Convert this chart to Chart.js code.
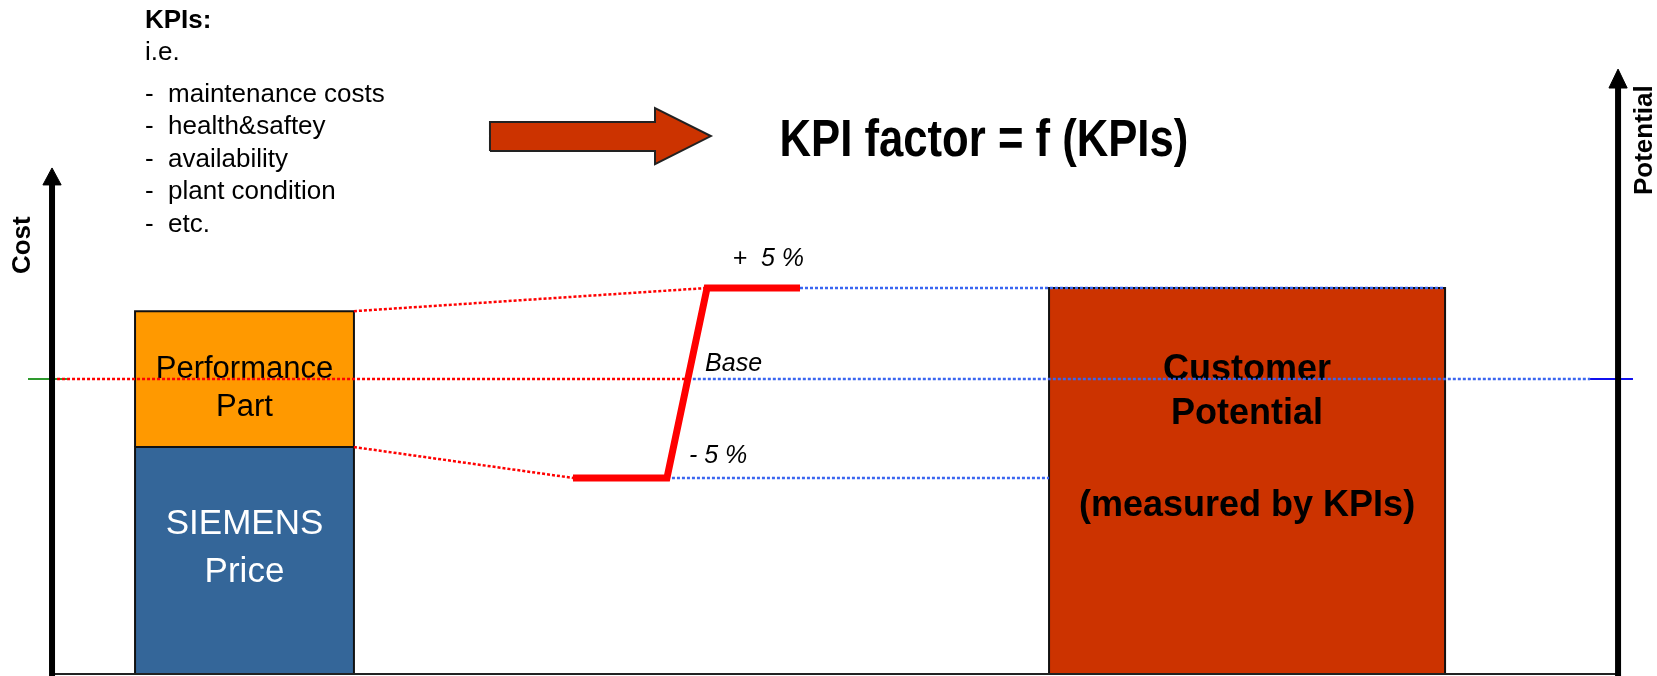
<!DOCTYPE html>
<html>
<head>
<meta charset="utf-8">
<script src="https://cdn.jsdelivr.net/npm/chart.js@4.4.0/dist/chart.umd.min.js"></script>
<style>
  html, body { margin: 0; padding: 0; background: #fff; }
  #grafico { display: block; }
</style>
</head>
<body>
<canvas id="grafico" width="1657" height="676"></canvas>
<script>
// x in % of the diagram width, y in cost units (0 = bottom line, 100 = +5 % level)
const blockNames = ["SIEMENS Price", "Performance Part", "Customer Potential"];
const blockFrom = [8.15, 8.15, 63.31];
const blockTo = [21.36, 21.36, 87.21];
const blockLow = [0, 58.8, 0];
const blockHigh = [58.8, 94.0, 100];
const blockColors = ["#346699", "#ff9900", "#cc3300"];

const levelNames = ["- 5 %", "Base", "+  5 %"];
const levelValues = [50.8, 76.4, 100];
const stepX = [34.58, 40.25, 42.67, 48.28];
const baseCrossX = 41.51;

const kpiList = ["maintenance costs", "health&saftey", "availability", "plant condition", "etc."];

const axisNames = ["Cost", "Potential"];
const axisX = [3.14, 97.65];
const axisTop = [131.1, 156.7];
const axisHeadBase = [126.7, 151.8];

// big arrow: tail, head base, tip / head bottom, shaft bottom, shaft top, head top
const arrowX = [29.57, 39.53, 42.9];
const arrowY = [132.1, 135.5, 143.0, 146.6];

const pts = (xs, ys) => xs.map((x, i) => ({ x, y: ys[i] }));

const datasets = [];

blockNames.forEach((name, i) => {
    datasets.push({
        label: name,
        data: pts([blockFrom[i], blockTo[i], blockTo[i], blockFrom[i], blockFrom[i]],
                  [blockLow[i], blockLow[i], blockHigh[i], blockHigh[i], blockLow[i]]),
        backgroundColor: blockColors[i],
        borderColor: "#111",
        borderWidth: 2,
        fill: "shape",
        order: 30 - i
    });
});

datasets.push({
    label: "arrow",
    data: pts([arrowX[0], arrowX[1], arrowX[1], arrowX[2], arrowX[1], arrowX[1], arrowX[0], arrowX[0]],
              [arrowY[1], arrowY[1], arrowY[0], (arrowY[0] + arrowY[3]) / 2, arrowY[3], arrowY[2], arrowY[2], arrowY[1]]),
    backgroundColor: "#cc3300",
    borderColor: "#222",
    borderWidth: 2,
    fill: "shape",
    order: 26
});

// short ticks at the base level
datasets.push({ label: "tickL", data: pts([1.69, 4.04], [levelValues[1], levelValues[1]]), borderColor: "#2e9a2e", borderWidth: 2, order: 25 });
datasets.push({ label: "tickR", data: pts([95.96, 98.55], [levelValues[1], levelValues[1]]), borderColor: "#1010ee", borderWidth: 2, order: 25 });

const dotted = { borderWidth: 2.5, borderDash: [3, 2] };
datasets.push({ label: "redBase", data: pts([axisX[0], baseCrossX], [levelValues[1], levelValues[1]]), borderColor: "#ff0000", ...dotted, order: 20 });
datasets.push({ label: "redTop", data: pts([blockTo[1], stepX[2]], [blockHigh[1], levelValues[2]]), borderColor: "#ff0000", ...dotted, order: 20 });
datasets.push({ label: "redLow", data: pts([blockTo[0], stepX[0]], [blockHigh[0], levelValues[0]]), borderColor: "#ff0000", ...dotted, order: 20 });
datasets.push({ label: "bluePlus", data: pts([stepX[3], blockTo[2]], [levelValues[2], levelValues[2]]), borderColor: "#3b66f0", ...dotted, order: 19 });
datasets.push({ label: "blueBase", data: pts([baseCrossX, 95.96], [levelValues[1], levelValues[1]]), borderColor: "#3b66f0", ...dotted, order: 19 });
datasets.push({ label: "blueMinus", data: pts([stepX[1], blockFrom[2]], [levelValues[0], levelValues[0]]), borderColor: "#3b66f0", ...dotted, order: 19 });

// KPI factor step
datasets.push({
    label: "factor",
    data: pts(stepX, [levelValues[0], levelValues[0], levelValues[2], levelValues[2]]),
    borderColor: "#ff0000",
    borderWidth: 7,
    order: 10
});

// axes
datasets.push({ label: "bottom", data: pts([axisX[0], axisX[1]], [0, 0]), borderColor: "#222", borderWidth: 2, order: 5 });
axisNames.forEach((name, i) => {
    datasets.push({ label: name + "Line", data: pts([axisX[i], axisX[i]], [-0.5, axisHeadBase[i] + 0.3]), borderColor: "#000", borderWidth: 6, borderCapStyle: "butt", order: 4 });
    datasets.push({
        label: name + "Head",
        data: pts([axisX[i] - 0.55, axisX[i] + 0.55, axisX[i], axisX[i] - 0.55],
                  [axisHeadBase[i], axisHeadBase[i], axisTop[i], axisHeadBase[i]]),
        backgroundColor: "#000",
        borderColor: "#000",
        borderWidth: 1,
        fill: "shape",
        order: 3
    });
});

const FONT = "'Liberation Sans', Arial, sans-serif";

const blockText = {
    "SIEMENS Price": { lines: ["SIEMENS", "Price"], at: [36.3, 23.8], font: "35px " + FONT, color: "#fff" },
    "Performance Part": { lines: ["Performance", "Part"], at: [76.6, 66.8], font: "31px " + FONT, color: "#000" },
    "Customer Potential": { lines: ["Customer", "Potential", "(measured by KPIs)"], at: [76.2, 64.9, 40.9], font: "bold 36px " + FONT, color: "#000" }
};

function write(c, s, x, y, font, color, align) {
    c.font = font;
    c.fillStyle = color;
    c.textAlign = align || "left";
    c.textBaseline = "alphabetic";
    c.fillText(s, x, y);
}

const textos = {
    id: "textos",
    afterDatasetDraw(chart, args) {
        const ds = chart.data.datasets[args.index];
        const t = blockText[ds.label];
        if (!t) return;
        const i = blockNames.indexOf(ds.label);
        const sx = chart.scales.x, sy = chart.scales.y;
        const cx = sx.getPixelForValue((blockFrom[i] + blockTo[i]) / 2);
        const c = chart.ctx;
        c.save();
        t.lines.forEach((line, k) => write(c, line, cx, sy.getPixelForValue(t.at[k]), t.font, t.color, "center"));
        c.restore();
    },
    afterDraw(chart) {
        const c = chart.ctx;
        const sx = chart.scales.x, sy = chart.scales.y;
        const X = v => sx.getPixelForValue(v), Y = v => sy.getPixelForValue(v);
        c.save();

        // KPI list
        write(c, "KPIs:", X(8.75), Y(167.4), "bold 26px " + FONT, "#000");
        write(c, "i.e.", X(8.75), Y(159.1), "26px " + FONT, "#000");
        kpiList.forEach((s, k) => {
            write(c, "-", X(8.75), Y(148.2 - k * 8.4), "26px " + FONT, "#000");
            write(c, s, X(10.14), Y(148.2 - k * 8.4), "26px " + FONT, "#000");
        });

        // title, condensed
        c.save();
        c.translate(X(59.38), Y(134.2));
        c.scale(0.856, 1);
        write(c, "KPI factor = f (KPIs)", 0, 0, "bold 51px " + FONT, "#000", "center");
        c.restore();

        // level labels
        const lx = [41.58, 42.55, 44.2];
        const ly = [54.7, 78.5, 105.7];
        levelNames.forEach((s, k) => write(c, s, X(lx[k]), Y(ly[k]), "italic 25px " + FONT, "#000"));

        // axis titles
        const tx = [1.81, 99.70];
        const ty = [111.1, 138.3];
        axisNames.forEach((s, k) => {
            c.save();
            c.translate(X(tx[k]), Y(ty[k]));
            c.rotate(-Math.PI / 2);
            write(c, s, 0, 0, "bold 26px " + FONT, "#000", "center");
            c.restore();
        });

        c.restore();
    }
};

new Chart(document.getElementById("grafico"), {
    type: "line",
    data: { datasets },
    options: {
        responsive: false,
        animation: false,
        devicePixelRatio: 1,
        events: [],
        layout: { padding: 0 },
        elements: {
            point: { radius: 0, hoverRadius: 0 },
            line: { tension: 0, borderJoinStyle: "miter", fill: false }
        },
        scales: {
            x: { type: "linear", min: 0, max: 100, display: false },
            y: { type: "linear", min: -0.5, max: 174.6, display: false }
        },
        plugins: {
            legend: { display: false },
            tooltip: { enabled: false }
        }
    },
    plugins: [textos]
});
</script>
</body>
</html>
